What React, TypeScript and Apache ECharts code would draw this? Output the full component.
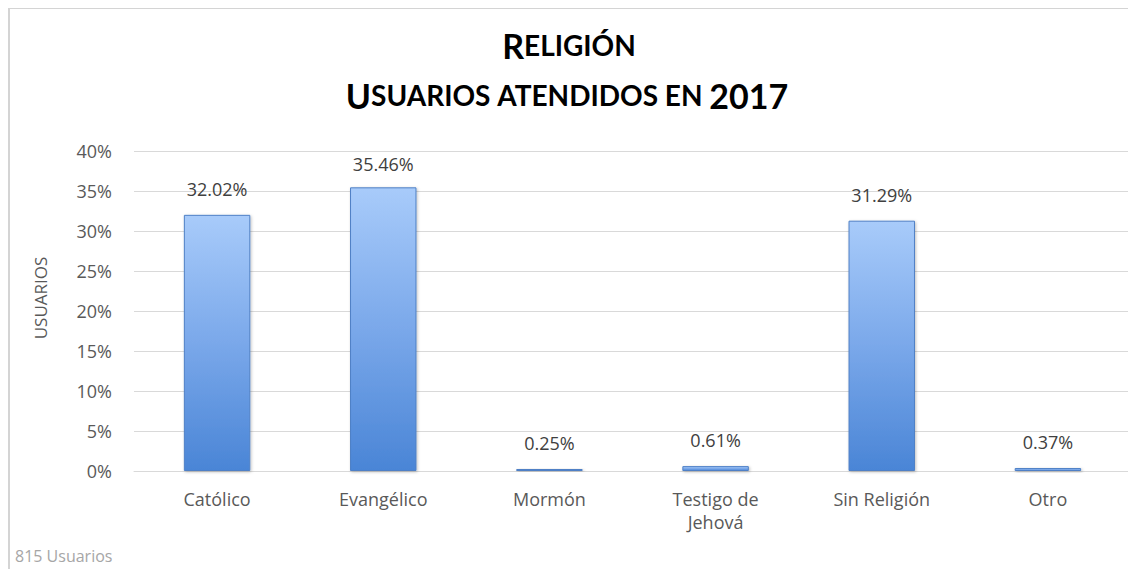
import React, { useEffect, useRef } from "react";
import * as echarts from "echarts";

const categories = ["Católico", "Evangélico", "Mormón", "Testigo de\nJehová", "Sin Religión", "Otro"];
const values = [32.02, 35.46, 0.25, 0.61, 31.29, 0.37];
const yTicks = { min: 0, max: 40, interval: 5 };
const titleLine1 = "RELIGIÓN";
const titleLine2 = "USUARIOS ATENDIDOS EN 2017";
const yAxisName = "USUARIOS";
const footnote = "815 Usuarios";

const FONT = "'Open Sans', 'Noto Sans', sans-serif";

function smallCaps(s: string): string {
  return s
    .split(" ")
    .map((w, i) => {
      if (/^\d+$/.test(w)) return `{big|${w}}`;
      if (i === 0) return `{big|${w[0]}}{small|${w.slice(1)}}`;
      return `{small|${w}}`;
    })
    .join("{small| }");
}

export default function App() {
  const ref = useRef<HTMLDivElement>(null);
  useEffect(() => {
    if (!ref.current) return;
    const chart = echarts.init(ref.current, null, { renderer: "svg" });
    const rich = {
      big: { fontFamily: "Lato, sans-serif", fontWeight: "bold" as const, fontSize: 34, color: "#000" },
      small: { fontFamily: "Lato, sans-serif", fontWeight: "bold" as const, fontSize: 28, color: "#000" },
    };
    chart.setOption({
      animation: false,
      backgroundColor: "#fff",
      graphic: [
        {
          type: "line",
          shape: { x1: 0, y1: 2, x2: 1128, y2: 2 },
          style: { stroke: "#d4d4d4", lineWidth: 2 },
          silent: true,
        },
        {
          type: "line",
          shape: { x1: 1, y1: 0, x2: 1, y2: 563 },
          style: { stroke: "#d4d4d4", lineWidth: 2 },
          silent: true,
        },
        {
          type: "text",
          x: 561,
          y: 39,
          style: { text: smallCaps(titleLine1), rich, align: "center", verticalAlign: "middle" },
        },
        {
          type: "text",
          x: 559,
          y: 89,
          style: { text: smallCaps(titleLine2), rich, align: "center", verticalAlign: "middle" },
        },
        {
          type: "text",
          x: 32,
          y: 292,
          rotation: Math.PI / 2,
          style: {
            text: yAxisName,
            fontFamily: FONT,
            fontSize: 17,
            fill: "#595959",
            align: "center",
            verticalAlign: "middle",
          },
        },
        {
          type: "text",
          x: 7,
          y: 550,
          style: {
            text: footnote,
            fontFamily: FONT,
            fontSize: 16,
            fill: "#a6a6a6",
            verticalAlign: "middle",
          },
        },
      ],
      grid: { left: 126, right: 5, top: 145, height: 320, containLabel: false },
      xAxis: {
        type: "category",
        data: categories,
        axisLine: { lineStyle: { color: "#d9d9d9", width: 1 } },
        axisTick: { show: false },
        axisLabel: {
          color: "#595959",
          fontFamily: FONT,
          fontSize: 18,
          margin: 16,
          lineHeight: 23,
        },
      },
      yAxis: {
        type: "value",
        min: yTicks.min,
        max: yTicks.max,
        interval: yTicks.interval,
        axisLine: { show: false },
        axisTick: { show: false },
        axisLabel: {
          color: "#595959",
          fontFamily: FONT,
          fontSize: 18,
          margin: 22,
          formatter: (v: number) => `${v}%`,
        },
        splitLine: { lineStyle: { color: "#d9d9d9", width: 1 } },
      },
      series: [
        {
          type: "bar",
          data: values.map((v, i) => ({
            value: v,
            label: i === 1 ? { distance: 14 } : undefined,
          })),
          barWidth: "40%",
          itemStyle: {
            color: new echarts.graphic.LinearGradient(0, 0, 0, 1, [
              { offset: 0, color: "#a8cbfa" },
              { offset: 0.5, color: "#7aa8ea" },
              { offset: 1, color: "#4a85d6" },
            ]),
            borderColor: "#4f80c6",
            borderWidth: 1,
            shadowColor: "rgba(0,0,0,0.25)",
            shadowBlur: 3,
            shadowOffsetX: 1,
            shadowOffsetY: 1,
          },
          label: {
            show: true,
            position: "top",
            distance: 17,
            color: "#404040",
            fontFamily: FONT,
            fontSize: 18,
            formatter: (p: any) => `${p.value.toFixed(2)}%`,
          },
        },
      ],
    });
    return () => chart.dispose();
  }, []);
  return <div ref={ref} style={{ width: 1128, height: 563, position: "relative", top: -2 }} />;
}
